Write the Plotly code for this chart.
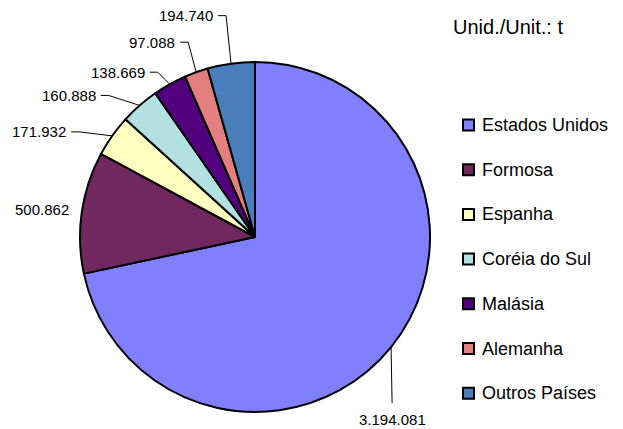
import math
import plotly.graph_objects as go

# ---- data ----
categories = ["Estados Unidos", "Formosa", "Espanha", "Coréia do Sul",
              "Malásia", "Alemanha", "Outros Países"]
values = [3194081, 500862, 171932, 160888, 138669, 97088, 194740]
value_labels = ["3.194.081", "500.862", "171.932", "160.888",
                "138.669", "97.088", "194.740"]
unit_text = "Unid./Unit.: t"

# ---- style ----
colors = ["#8080FF", "#70285F", "#FFFFC0", "#B3E0E0", "#52007D", "#E37F7F", "#4A7EBB"]
PAGE_MARGIN = 8                    # default body margin of the html page
W, H = 623 - PAGE_MARGIN, 429 - PAGE_MARGIN
CX, CY, R = 255, 237, 175          # pie centre / radius in window pixels
FONT = "Liberation Sans, Arial, sans-serif"
# label offsets (px) from slice edge midpoint
LABEL_DX = [1, -11, -44, -42, -23, -19, -16]
LABEL_DY = [62, -3, -4, -10, -12, -30, -48]
SHOW_LINE = [True, False, True, True, True, True, True]


def px(x):
    return (x - PAGE_MARGIN) / W


def py(y):
    return 1 - (y - PAGE_MARGIN) / H


fig = go.Figure(go.Pie(
    labels=categories, values=values, sort=False, direction="clockwise",
    rotation=0, textinfo="none", hoverinfo="label+value",
    marker=dict(colors=colors, line=dict(color="black", width=2)),
    domain=dict(x=[px(CX - R), px(CX + R)], y=[py(CY + R), py(CY - R)]),
    showlegend=False,
))

total = sum(values)
annotations = []
shapes = []
cum = 0.0
for i, v in enumerate(values):
    mid = (cum + v / 2) / total
    cum += v
    ang = 2 * math.pi * mid
    ex = CX + R * math.sin(ang)
    ey = CY - R * math.cos(ang)
    ax = ex + LABEL_DX[i]
    ay = ey + LABEL_DY[i]
    if LABEL_DY[i] > 0:  # label below
        annotations.append(dict(x=px(ax), y=py(ay), xref="paper", yref="paper",
                                text=value_labels[i], showarrow=False,
                                xanchor="center", yanchor="top",
                                font=dict(family=FONT, size=15, color="black")))
        if SHOW_LINE[i]:
            path = f"M {px(ex)} {py(ey)} L {px(ax)} {py(ay - 6)}"
            shapes.append(dict(type="path", path=path, xref="paper", yref="paper",
                               line=dict(color="black", width=1)))
    else:
        annotations.append(dict(x=px(ax), y=py(ay), xref="paper", yref="paper",
                                text=value_labels[i], showarrow=False,
                                xanchor="right", yanchor="middle",
                                font=dict(family=FONT, size=15, color="black")))
        if SHOW_LINE[i]:
            path = (f"M {px(ex)} {py(ey)} L {px(ax + 11)} {py(ay)} "
                    f"L {px(ax + 3)} {py(ay)}")
            shapes.append(dict(type="path", path=path, xref="paper", yref="paper",
                               line=dict(color="black", width=1)))

# manual legend
LEG_X0, LEG_Y0, LEG_STEP, SQ = 463, 125, 44.7, 11
for i, name in enumerate(categories):
    yc = LEG_Y0 + i * LEG_STEP
    shapes.append(dict(type="rect", xref="paper", yref="paper",
                       x0=px(LEG_X0), x1=px(LEG_X0 + SQ),
                       y0=py(yc + SQ / 2), y1=py(yc - SQ / 2),
                       fillcolor=colors[i], line=dict(color="black", width=2)))
    annotations.append(dict(x=px(LEG_X0 + SQ + 6), y=py(yc), xref="paper", yref="paper",
                            text=name, showarrow=False, xanchor="left", yanchor="middle",
                            font=dict(family=FONT, size=18, color="black")))

annotations.append(dict(x=px(451), y=py(27), xref="paper", yref="paper",
                        text=unit_text, showarrow=False, xanchor="left", yanchor="middle",
                        font=dict(family=FONT, size=20, color="black")))

fig.update_layout(width=W, height=H, margin=dict(l=0, r=0, t=0, b=0),
                  paper_bgcolor="white", plot_bgcolor="white",
                  annotations=annotations, shapes=shapes)

fig.write_html("out.html")
